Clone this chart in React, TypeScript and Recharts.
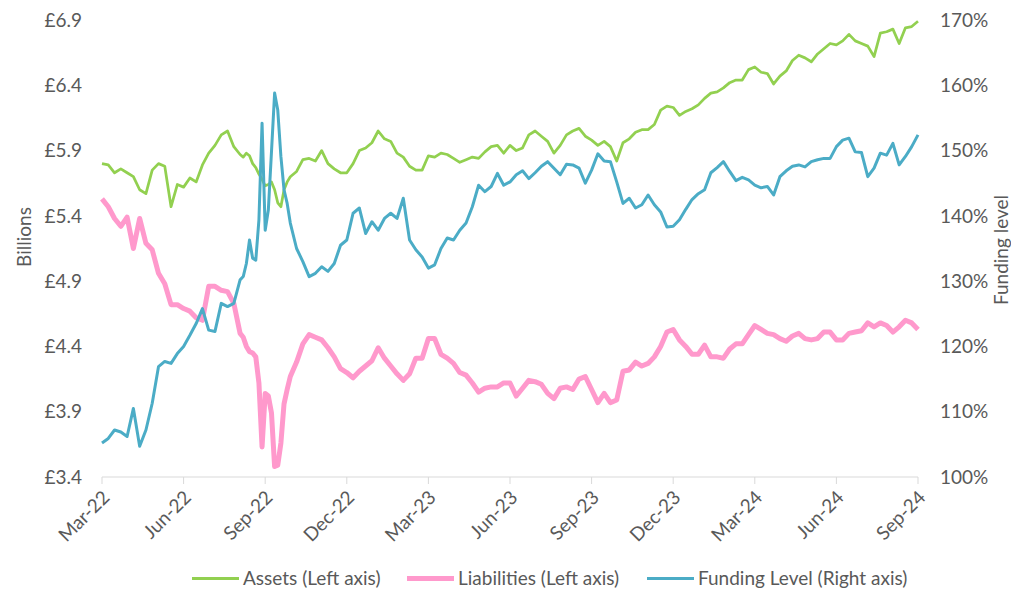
import { LineChart, Line, XAxis, YAxis } from 'recharts'

// week offsets from the start of Mar-22 (half-week steps around the Sep-22 gilt shock)
const WEEKS = [
  0, 1, 2, 3, 4, 5, 6, 7, 8, 9, 10, 11, 12, 13, 14, 15, 16, 17, 18, 19, 20, 21,
  22, 22.5, 23, 23.5, 24, 24.5, 25, 25.5, 26, 26.5, 27, 27.5, 28, 28.5, 29, 29.5, 30,
  31, 32, 33, 34, 35, 36, 37, 38, 39, 40, 41, 42, 43, 44, 45, 46, 47, 48, 49, 50,
  51, 52, 53, 54, 55, 56, 57, 58, 59, 60, 61, 62, 63, 64, 65, 66, 67, 68, 69, 70,
  71, 72, 73, 74, 75, 76, 77, 78, 79, 80, 81, 82, 83, 84, 85, 86, 87, 88, 89, 90,
  91, 92, 93, 94, 95, 96, 97, 98, 99, 100, 101, 102, 103, 104, 105, 106, 107, 108, 109, 110,
  111, 112, 113, 114, 115, 116, 117, 118, 119, 120, 121, 122, 123, 124, 125, 126, 127, 128, 129, 130,
]

// £bn
const ASSETS = [
  5.80, 5.79, 5.73, 5.76, 5.73, 5.70, 5.60, 5.57, 5.75, 5.80, 5.78, 5.47, 5.64, 5.62, 5.69, 5.66, 5.79, 5.88, 5.94, 6.02, 6.05, 5.93,
  5.87, 5.85, 5.88, 5.86, 5.80, 5.77, 5.72, 5.68, 5.63, 5.64, 5.66, 5.60, 5.50, 5.47, 5.60, 5.66, 5.70,
  5.74, 5.83, 5.84, 5.82, 5.90, 5.80, 5.76, 5.73, 5.73, 5.80, 5.90, 5.92, 5.96, 6.05, 5.99, 5.97, 5.88, 5.85, 5.78, 5.75,
  5.75, 5.86, 5.85, 5.88, 5.87, 5.84, 5.81, 5.83, 5.85, 5.84, 5.89, 5.93, 5.94, 5.88, 5.94, 5.90, 5.92, 6.02, 6.05, 6.01,
  5.97, 5.88, 5.94, 6.02, 6.05, 6.07, 6.01, 5.98, 5.94, 5.97, 5.93, 5.82, 5.96, 5.99, 6.04, 6.06, 6.06, 6.10, 6.21, 6.24,
  6.23, 6.17, 6.20, 6.22, 6.25, 6.30, 6.34, 6.35, 6.38, 6.42, 6.44, 6.44, 6.52, 6.54, 6.50, 6.49, 6.41, 6.47, 6.51, 6.59,
  6.63, 6.61, 6.58, 6.64, 6.68, 6.72, 6.71, 6.74, 6.79, 6.74, 6.72, 6.70, 6.62, 6.80, 6.81, 6.83, 6.72, 6.84, 6.85, 6.89,
]

// £bn
const LIABILITIES = [
  5.53, 5.47, 5.38, 5.32, 5.39, 5.15, 5.38, 5.19, 5.14, 4.96, 4.88, 4.72, 4.72, 4.69, 4.67, 4.62, 4.60, 4.86, 4.86, 4.83, 4.82, 4.73,
  4.50, 4.47, 4.40, 4.36, 4.35, 4.32, 4.12, 3.63, 4.04, 4.02, 3.89, 3.48, 3.49, 3.66, 3.96, 4.07, 4.17,
  4.28, 4.42, 4.49, 4.47, 4.45, 4.39, 4.32, 4.23, 4.20, 4.16, 4.21, 4.25, 4.29, 4.39, 4.31, 4.25, 4.19, 4.14, 4.19, 4.31,
  4.31, 4.46, 4.46, 4.34, 4.31, 4.27, 4.20, 4.18, 4.12, 4.05, 4.08, 4.09, 4.09, 4.12, 4.12, 4.02, 4.08, 4.14, 4.13, 4.11,
  4.04, 4.00, 4.08, 4.09, 4.07, 4.15, 4.17, 4.07, 3.97, 4.04, 3.97, 3.99, 4.21, 4.22, 4.28, 4.25, 4.27, 4.32, 4.40, 4.51,
  4.53, 4.45, 4.40, 4.34, 4.34, 4.41, 4.32, 4.32, 4.31, 4.38, 4.42, 4.42, 4.49, 4.56, 4.53, 4.50, 4.49, 4.46, 4.44, 4.48,
  4.50, 4.46, 4.45, 4.46, 4.51, 4.51, 4.45, 4.45, 4.50, 4.51, 4.52, 4.58, 4.55, 4.58, 4.56, 4.51, 4.55, 4.60, 4.58, 4.53,
]

// %
const FUNDING = [
  105.2, 105.9, 107.2, 106.9, 106.2, 110.5, 104.7, 107.2, 111.3, 116.9, 117.7, 117.4, 118.9, 120.0, 121.7, 123.5, 125.8, 122.5, 122.3, 126.6, 126.1, 126.6,
  130.2, 130.7, 132.7, 136.3, 133.5, 133.2, 139.4, 154.2, 137.8, 140.9, 149.8, 158.8, 156.2, 149.1, 144.0, 141.9, 138.9,
  135.0, 133.0, 130.7, 131.2, 132.2, 131.5, 132.7, 135.5, 136.3, 140.4, 141.2, 137.3, 139.1, 137.8, 139.6, 140.4, 139.6, 142.7, 136.3, 134.8,
  133.7, 132.0, 132.5, 135.0, 136.6, 136.3, 137.8, 138.9, 141.4, 144.7, 143.7, 144.5, 146.5, 144.7, 145.2, 146.3, 146.9, 145.7, 146.6, 147.6,
  148.3, 147.3, 146.3, 147.9, 147.8, 147.3, 145.0, 147.0, 149.5, 148.4, 148.3, 145.2, 141.9, 142.7, 141.2, 141.7, 143.2, 141.7, 140.6, 138.3,
  138.4, 139.4, 141.0, 142.5, 143.4, 144.0, 146.6, 147.4, 148.3, 146.8, 145.4, 145.9, 145.5, 144.7, 144.3, 144.5, 143.2, 146.0, 146.9, 147.6,
  147.8, 147.5, 148.3, 148.6, 148.8, 148.8, 150.6, 151.6, 151.9, 149.8, 149.7, 146.0, 147.3, 149.6, 149.3, 151.1, 147.8, 149.1, 150.6, 152.4,
]

const QUARTER_LABELS = ['Mar-22', 'Jun-22', 'Sep-22', 'Dec-22', 'Mar-23', 'Jun-23', 'Sep-23', 'Dec-23', 'Mar-24', 'Jun-24', 'Sep-24']
const QUARTER_TICKS = [0, 13, 26, 39, 52, 65, 78, 91, 104, 117, 130]
const LEFT_TICKS = [3.4, 3.9, 4.4, 4.9, 5.4, 5.9, 6.4, 6.9]
const RIGHT_TICKS = [100, 110, 120, 130, 140, 150, 160, 170]

const GREEN = '#92d050'
const PINK = '#ff99cc'
const TEAL = '#4bacc6'
const TEXT = '#595959'
const FONT = 'Lato, "Open Sans", sans-serif'

const rows = WEEKS.map((week, i) => ({
  week,
  assets: ASSETS[i],
  liabilities: LIABILITIES[i],
  funding: FUNDING[i],
}))

function QuarterTick({ x, y, payload }: { x: number; y: number; payload: { value: number } }) {
  const label = QUARTER_LABELS[QUARTER_TICKS.indexOf(payload.value)]
  return (
    <g transform={`translate(${x + 4},${y + 8}) rotate(-45)`}>
      <text textAnchor="end" dy="0.35em" fill={TEXT} fontSize={19} fontFamily={FONT}>
        {label}
      </text>
    </g>
  )
}

const tickStyle = { fill: TEXT, fontSize: 19, fontFamily: FONT }

// left edge of each legend swatch
const LEGEND = [
  { label: 'Assets (Left axis)', colour: GREEN, thickness: 3, left: 192 },
  { label: 'Liabilities (Left axis)', colour: PINK, thickness: 5, left: 407 },
  { label: 'Funding Level (Right axis)', colour: TEAL, thickness: 3, left: 647 },
]

export default function App() {
  return (
    <div style={{ position: 'absolute', left: 0, top: 0, width: 1011, height: 590, background: '#fff', fontFamily: FONT }}>
      <LineChart width={1011} height={590} data={rows} margin={{ top: 20, right: 0, bottom: 0, left: 0 }}>
        <XAxis
          dataKey="week"
          type="number"
          domain={[0, 130]}
          ticks={QUARTER_TICKS}
          interval={0}
          height={113}
          stroke="#d9d9d9"
          tickSize={7}
          tickMargin={2}
          tick={QuarterTick}
        />
        <YAxis
          yAxisId="left"
          domain={[3.4, 6.9]}
          ticks={LEFT_TICKS}
          interval={0}
          allowDataOverflow
          width={102}
          axisLine={false}
          tickLine={false}
          tickSize={0}
          tickMargin={20}
          tick={tickStyle}
          tickFormatter={v => `£${Number(v).toFixed(1)}`}
        />
        <YAxis
          yAxisId="right"
          orientation="right"
          domain={[100, 170]}
          ticks={RIGHT_TICKS}
          interval={0}
          allowDataOverflow
          width={93}
          axisLine={false}
          tickLine={false}
          tickSize={0}
          tickMargin={22}
          tick={tickStyle}
          tickFormatter={v => `${v}%`}
        />
        <Line yAxisId="left" dataKey="assets" stroke={GREEN} strokeWidth={2.75} dot={false} isAnimationActive={false} strokeLinejoin="round" />
        <Line yAxisId="left" dataKey="liabilities" stroke={PINK} strokeWidth={5} dot={false} isAnimationActive={false} strokeLinejoin="round" />
        <Line yAxisId="right" dataKey="funding" stroke={TEAL} strokeWidth={3} dot={false} isAnimationActive={false} strokeLinejoin="round" />
      </LineChart>

      {/* axis titles */}
      <div style={{ position: 'absolute', left: 23, top: 237, transform: 'translate(-50%, -50%) rotate(-90deg)', color: TEXT, fontSize: 19, whiteSpace: 'nowrap' }}>
        Billions
      </div>
      <div style={{ position: 'absolute', left: 1000, top: 250, transform: 'translate(-50%, -50%) rotate(-90deg)', color: TEXT, fontSize: 19, whiteSpace: 'nowrap' }}>
        Funding level
      </div>

      {/* legend */}
      {LEGEND.map(item => (
        <div
          key={item.label}
          style={{ position: 'absolute', left: item.left, top: 566, display: 'flex', alignItems: 'center', gap: 4, color: TEXT, fontSize: 19, lineHeight: '24px', whiteSpace: 'nowrap' }}
        >
          <div style={{ width: 47, height: item.thickness, background: item.colour }} />
          <span>{item.label}</span>
        </div>
      ))}
    </div>
  )
}
